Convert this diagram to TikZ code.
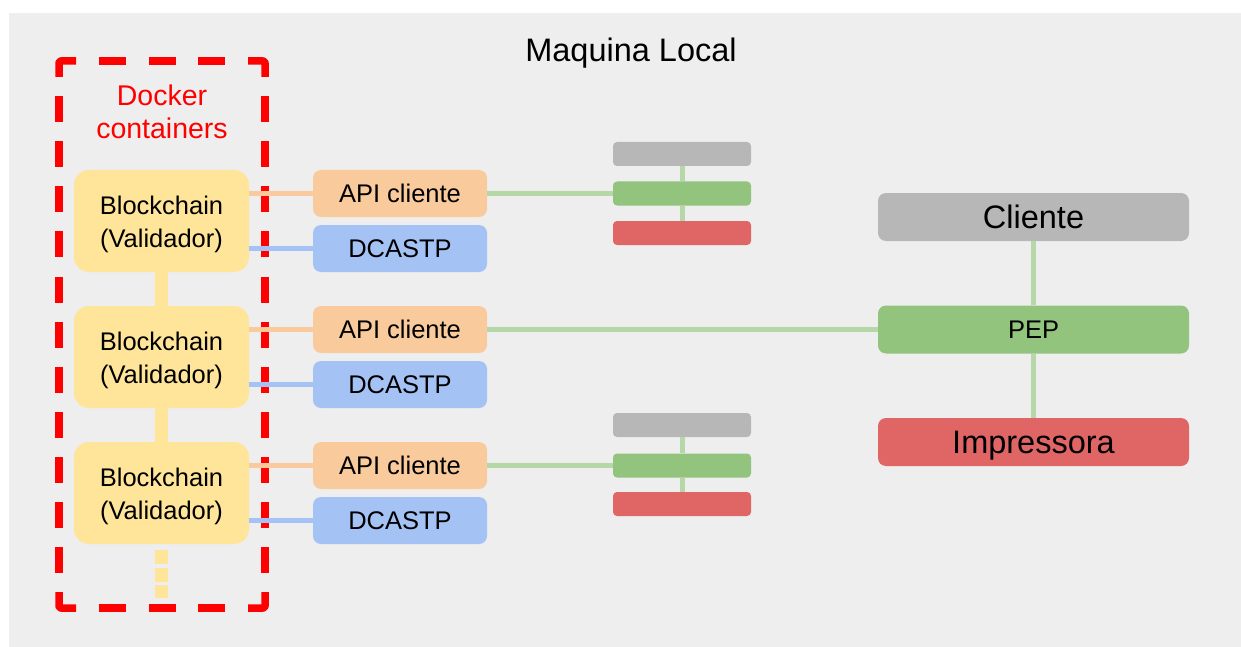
\documentclass[tikz,border=0pt]{standalone}
\usepackage{fontspec}
\setmainfont{Liberation Sans}
\usetikzlibrary{calc}

\definecolor{bgray}{HTML}{EEEEEE}
\definecolor{valyellow}{HTML}{FFE599}
\definecolor{apiorange}{HTML}{F9CB9C}
\definecolor{dcablue}{HTML}{A4C2F4}
\definecolor{bargray}{HTML}{B7B7B7}
\definecolor{bargreen}{HTML}{93C47D}
\definecolor{barred}{HTML}{E06666}
\definecolor{linkgreen}{HTML}{B6D7A8}
\definecolor{dockred}{HTML}{FF0000}

\tikzset{
  box/.style={draw=none, inner sep=0pt, align=center, text=black},
  valbox/.style={box, fill=valyellow, rounded corners=15pt,
    minimum width=175pt, minimum height=102pt,
    label={[box, yshift=-3pt, font=\fontsize{25.5}{33}\selectfont]center:Blockchain\\(Validador)}},
  apibox/.style={box, fill=apiorange, rounded corners=8pt,
    minimum width=174pt, minimum height=47pt,
    font=\fontsize{25.5}{30}\selectfont},
  dcabox/.style={apibox, fill=dcablue},
  minibar/.style={box, rounded corners=4pt, minimum width=138pt, minimum height=24pt},
  bigbar/.style={box, rounded corners=8pt, minimum width=311pt, minimum height=48pt,
    font=\fontsize{32.5}{36}\selectfont},
  oline/.style={draw=apiorange, line width=5pt},
  bline/.style={draw=dcablue, line width=5pt},
  gline/.style={draw=linkgreen, line width=5pt},
  yline/.style={draw=valyellow, line width=13pt},
  frame/.style={draw=dockred, line width=7.5pt},
  framecorner/.style={frame, line join=round, rounded corners=2pt},
  framelong/.style={frame, dash pattern=on 26pt off 19.1pt, dash phase=26pt},
  frameshort/.style={frame, dash pattern=on 27pt off 22.75pt, dash phase=27pt},
}

\begin{document}
\begin{tikzpicture}[x=1pt, y=-1pt]
  \useasboundingbox (0,0) rectangle (1241,647);
  \fill[bgray] (9,13) rectangle (1241,647);

  % title
  \node[box, font=\fontsize{32.5}{36}\selectfont] (title) at (631,53) {Maquina Local};

  % docker containers frame: corner pieces and dashed sides
  \coordinate (tl) at (59,61);
  \coordinate (tr) at (265,61);
  \coordinate (br) at (265,608);
  \coordinate (bl) at (59,608);
  \draw[framecorner] ($(tl)+(0,16)$) -- (tl) -- ($(tl)+(17,0)$);
  \draw[framecorner] ($(tr)+(-17,0)$) -- (tr) -- ($(tr)+(0,16)$);
  \draw[framecorner] ($(br)+(0,-16)$) -- (br) -- ($(br)+(-17,0)$);
  \draw[framecorner] ($(bl)+(17,0)$) -- (bl) -- ($(bl)+(0,-16)$);
  \draw[frameshort] ($(tl)+(17,0)$) -- ($(tr)+(-17,0)$);
  \draw[frameshort] ($(bl)+(17,0)$) -- ($(br)+(-17,0)$);
  \draw[framelong] ($(tl)+(0,16)$) -- ($(bl)+(0,-16)$);
  \draw[framelong] ($(tr)+(0,16)$) -- ($(br)+(0,-16)$);
  \node[box, text=dockred, font=\fontsize{28.5}{32.5}\selectfont] (docker) at (162,112)
    {Docker\\containers};

  % validators
  \node[valbox] (v1) at (161.5,221) {};
  \node[valbox] (v2) at (161.5,357) {};
  \node[valbox] (v3) at (161.5,493) {};

  % client APIs and DCASTP services
  \node[apibox] (a1) at (400,193.5) {API cliente};
  \node[dcabox] (d1) at (400,248.5) {DCASTP};
  \node[apibox] (a2) at (400,329.5) {API cliente};
  \node[dcabox] (d2) at (400,384.5) {DCASTP};
  \node[apibox] (a3) at (400,465.5) {API cliente};
  \node[dcabox] (d3) at (400,520.5) {DCASTP};

  % small client / PEP / printer stacks
  \node[minibar, fill=bargray]  (g1) at (682,154) {};
  \node[minibar, fill=bargreen] (p1) at (682,193.5) {};
  \node[minibar, fill=barred]   (r1) at (682,233) {};
  \node[minibar, fill=bargray]  (g3) at (682,425) {};
  \node[minibar, fill=bargreen] (p3) at (682,465.5) {};
  \node[minibar, fill=barred]   (r3) at (682,504) {};

  % full client / PEP / printer stack
  \node[bigbar, fill=bargray] (cli) at (1033.5,217) {Cliente};
  \node[bigbar, fill=bargreen, font=\fontsize{25.5}{30}\selectfont] (pep) at (1033.5,329.5) {PEP};
  \node[bigbar, fill=barred, text depth=0pt] (imp) at (1033.5,442) {Impressora};

  % validator chain
  \draw[yline] (v1.south) -- (v2.north);
  \draw[yline] (v2.south) -- (v3.north);
  \coordinate (more) at ($(v3.south)+(0,54)$);
  \draw[yline, dash pattern=on 14pt off 3.5pt] ($(v3.south)+(0,6)$) -- (more);

  % validator to API / DCASTP links
  \foreach \i in {1,2,3}{
    \draw[oline] (a\i.west) -- (a\i.west -| v\i.east);
    \draw[bline] (d\i.west) -- (d\i.west -| v\i.east);
  }

  % API to PEP links
  \draw[gline] (a1.east) -- (p1.west);
  \draw[gline] (a2.east) -- (pep.west);
  \draw[gline] (a3.east) -- (p3.west);

  % stack links
  \draw[gline] (g1.south) -- (p1.north);
  \draw[gline] (p1.south) -- (r1.north);
  \draw[gline] (g3.south) -- (p3.north);
  \draw[gline] (p3.south) -- (r3.north);
  \draw[gline] (cli.south) -- (pep.north);
  \draw[gline] (pep.south) -- (imp.north);
\end{tikzpicture}
\end{document}
